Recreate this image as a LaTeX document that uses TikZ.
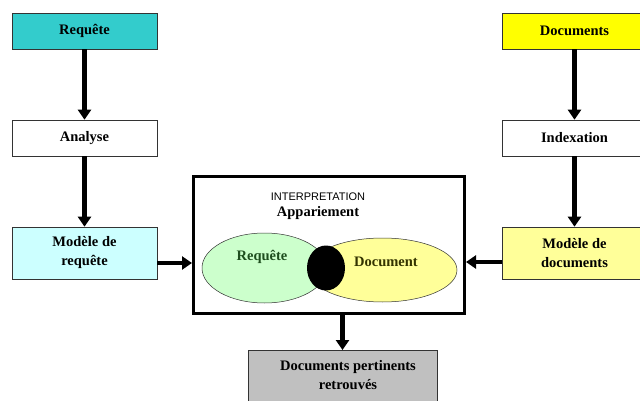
\documentclass[tikz,border=0pt]{standalone}
\usepackage{fontspec}
\setmainfont{Liberation Serif}
\newfontfamily\arialfont{Liberation Sans}
\usetikzlibrary{arrows.meta,shapes.geometric}

\definecolor{turq}{HTML}{33CCCC}
\definecolor{cyanpale}{HTML}{CCFFFF}
\definecolor{jaune}{HTML}{FFFF00}
\definecolor{jaunepale}{HTML}{FFFF99}
\definecolor{vertpale}{HTML}{CCFFCC}
\definecolor{gris}{HTML}{C0C0C0}
\definecolor{vertfonce}{HTML}{1E4D1E}
\definecolor{olive}{HTML}{333300}

\tikzset{
  texte/.style={font=\fontsize{14.5}{19}\selectfont\bfseries, align=center},
  boite/.style={texte, draw=black!80, line width=0.6pt, minimum width=145pt, minimum height=36pt,
    inner sep=2pt},
  haute/.style={boite, minimum height=52pt},
  fleche/.style={line width=4.5pt, -{Triangle[width=13pt,length=10pt]}},
  bulle/.style={ellipse, draw=black!80, line width=0.5pt, inner sep=0pt}
}

\begin{document}
\begin{tikzpicture}[x=1pt,y=-1pt]
  \useasboundingbox (0,0) rectangle (640,401);

  % colonne requete
  \node[boite, fill=turq] (req) at (84.5,31) {Requête};
  \node[boite, fill=white] (ana) at (84.5,138) {Analyse};
  \node[haute, fill=cyanpale] (modreq) at (84.5,253) {Modèle de\\requête};

  % colonne documents
  \node[boite, fill=jaune] (doc) at (574.5,31) {Documents};
  \node[boite, fill=white] (idx) at (574.5,138) {Indexation};
  \node[haute, fill=jaunepale] (moddoc) at (574.5,253) {Modèle de\\documents};

  % appariement
  \node[draw, line width=3pt, minimum width=271pt, minimum height=137pt] (interp) at (329,245) {};
  \node[font=\arialfont\fontsize{11}{13}\selectfont] (titre) at (318,197) {INTERPRETATION};
  \node[texte] (appar) at (318,213) {Appariement};

  \node[bulle, fill=vertpale, minimum width=125pt, minimum height=70pt] (ereq) at (264.5,268) {};
  \node[bulle, fill=jaunepale, minimum width=149pt, minimum height=64pt] (edoc) at (382.5,270) {};
  \node[ellipse, fill=black, minimum width=38pt, minimum height=45pt, inner sep=0pt] (inter) at (326,268) {};
  \node[texte, text=vertfonce] (lreq) at (262,257) {Requête};
  \node[texte, text=olive] (ldoc) at (386,262) {Document};

  % resultat
  \node[draw=black!80, line width=0.6pt, fill=gris, minimum width=189pt, minimum height=60pt,
    anchor=north] (out) at (342.5,350) {};
  \node[texte] (outtxt) at (348,375) {Documents pertinents\\retrouvés};

  % fleches
  \draw[fleche] (req) -- (ana);
  \draw[fleche] (ana) -- (modreq);
  \draw[fleche] (doc) -- (idx);
  \draw[fleche] (idx) -- (moddoc);
  \draw[fleche] ([yshift=-10pt]modreq.east) -- ([yshift=-10pt]modreq.east -| interp.west);
  \draw[fleche] ([yshift=-9pt]moddoc.west) -- ([yshift=-9pt]moddoc.west -| interp.east);
  \draw[fleche] (interp.south -| out.north) -- (out.north);
\end{tikzpicture}
\end{document}
